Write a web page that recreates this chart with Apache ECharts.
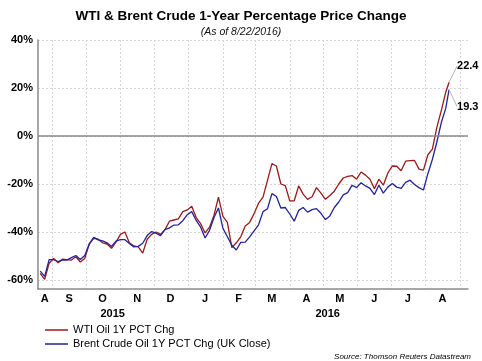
<!DOCTYPE html>
<html>
<head>
<meta charset="utf-8">
<script src="https://cdn.jsdelivr.net/npm/echarts@6/dist/echarts.min.js"></script>
<style>
  html, body { margin: 0; padding: 0; background: #ffffff; }
  #chart { width: 482px; height: 361px; }
</style>
</head>
<body>
<div id="chart"></div>
<script>
// ---- Data ----
const dates = [
  '2015-08-21','2015-08-25','2015-08-29','2015-09-02','2015-09-06','2015-09-10','2015-09-14','2015-09-18',
  '2015-09-22','2015-09-26','2015-09-30','2015-10-04','2015-10-08','2015-10-12','2015-10-16','2015-10-20',
  '2015-10-24','2015-10-28','2015-11-01','2015-11-05','2015-11-09','2015-11-13','2015-11-17','2015-11-21',
  '2015-11-25','2015-11-29','2015-12-03','2015-12-07','2015-12-11','2015-12-15','2015-12-19','2015-12-23',
  '2015-12-27','2015-12-31','2016-01-04','2016-01-08','2016-01-12','2016-01-16','2016-01-20','2016-01-24',
  '2016-01-28','2016-02-01','2016-02-05','2016-02-09','2016-02-13','2016-02-17','2016-02-21','2016-02-25',
  '2016-02-29','2016-03-04','2016-03-08','2016-03-12','2016-03-16','2016-03-20','2016-03-24','2016-03-28',
  '2016-04-01','2016-04-05','2016-04-09','2016-04-13','2016-04-17','2016-04-21','2016-04-25','2016-04-29',
  '2016-05-03','2016-05-07','2016-05-11','2016-05-15','2016-05-19','2016-05-23','2016-05-27','2016-05-31',
  '2016-06-04','2016-06-08','2016-06-12','2016-06-16','2016-06-20','2016-06-24','2016-06-28','2016-07-02',
  '2016-07-06','2016-07-10','2016-07-14','2016-07-18','2016-07-22','2016-07-26','2016-07-30','2016-08-03',
  '2016-08-07','2016-08-11','2016-08-15','2016-08-19','2016-08-22'
];
const wtiValues = [
  -57.2,-59.7,-53.0,-51.0,-52.8,-51.3,-51.5,-51.7,
  -50.3,-52.5,-51.0,-45.0,-42.6,-43.0,-44.5,-45.0,
  -46.8,-44.2,-41.0,-40.0,-44.5,-45.8,-46.2,-48.8,
  -43.0,-41.0,-40.0,-41.0,-39.0,-35.5,-35.0,-34.5,
  -31.5,-30.8,-29.3,-34.0,-36.5,-40.4,-38.0,-33.0,
  -25.5,-33.5,-36.0,-46.5,-44.5,-42.0,-37.5,-36.0,
  -32.3,-28.0,-25.5,-18.5,-11.5,-12.5,-20.0,-20.7,
  -27.0,-27.0,-20.8,-24.2,-26.4,-25.3,-21.5,-23.8,
  -26.4,-24.8,-23.0,-20.0,-17.5,-16.8,-16.5,-18.0,
  -15.0,-16.3,-18.0,-22.0,-18.0,-20.5,-15.5,-12.5,
  -12.6,-14.5,-10.5,-10.3,-10.2,-13.8,-14.2,-7.8,
  -5.5,3.5,10.6,18.2,22.4
];
const brentValues = [
  -56.3,-58.5,-51.5,-51.5,-52.3,-51.7,-51.7,-50.7,
  -49.8,-51.5,-49.8,-45.0,-42.2,-43.3,-43.7,-44.5,
  -46.0,-43.8,-43.2,-43.2,-44.8,-46.2,-46.0,-44.7,
  -41.5,-39.8,-40.5,-41.5,-39.0,-38.3,-37.1,-37.0,
  -35.3,-32.8,-31.5,-35.2,-38.0,-42.5,-39.3,-34.0,
  -30.0,-38.5,-42.0,-45.5,-47.5,-44.3,-44.2,-42.0,
  -39.5,-37.0,-31.5,-30.3,-24.0,-25.2,-30.0,-29.8,
  -32.5,-35.5,-31.0,-29.8,-31.7,-30.7,-30.3,-32.2,
  -34.8,-33.3,-29.8,-27.5,-24.5,-23.6,-20.5,-21.5,
  -19.5,-20.8,-21.8,-24.4,-20.5,-23.8,-21.3,-19.8,
  -21.3,-21.8,-19.3,-18.4,-20.2,-21.5,-22.5,-15.7,
  -9.8,-2.6,5.5,11.5,19.3
];
const seriesNames = ['WTI Oil 1Y PCT Chg', 'Brent Crude Oil 1Y PCT Chg (UK Close)'];
const monthStarts = [
  '2015-09-01','2015-10-01','2015-11-01','2015-12-01','2016-01-01','2016-02-01','2016-03-01',
  '2016-04-01','2016-05-01','2016-06-01','2016-07-01','2016-08-01','2016-09-01'
];
const monthLabelDates = [
  '2015-08-25','2015-09-16','2015-10-16','2015-11-16','2015-12-16','2016-01-16','2016-02-15',
  '2016-03-16','2016-04-16','2016-05-16','2016-06-16','2016-07-16','2016-08-16'
];
const yearLabelDates = ['2015-10-25', '2016-05-05'];
const yTicks = [-60, -40, -20, 0, 20, 40];
const axisStart = '2015-08-19';
const axisEnd = '2016-09-08';

// ---- Helpers ----
function ts(s) { return new Date(s + 'T00:00:00').getTime(); }
const MONTH_LETTERS = 'JFMAMJJASOND';
const FONT = '"Liberation Sans", Arial, sans-serif';

function buildData(values) {
  return values.map(function (v, i) {
    const item = { value: [ts(dates[i]), v] };
    if (i === values.length - 1) {
      item.label = {
        show: true,
        position: 'right',
        formatter: String(v),
        fontFamily: FONT,
        fontWeight: 'bold',
        fontSize: 11,
        color: '#000'
      };
    }
    return item;
  });
}

const chart = echarts.init(document.getElementById('chart'), null, { renderer: 'canvas' });

const option = {
  animation: false,
  backgroundColor: '#ffffff',
  title: [
    {
      text: 'WTI & Brent Crude 1-Year Percentage Price Change',
      subtext: '(As of 8/22/2016)',
      left: 'center',
      top: 4,
      itemGap: 4,
      textStyle: { fontFamily: FONT, fontWeight: 'bold', fontSize: 13.5, color: '#000' },
      subtextStyle: { fontFamily: FONT, fontStyle: 'italic', fontSize: 10.5, color: '#111' }
    },
    {
      text: 'Source: Thomson Reuters Datastream',
      right: 6,
      top: 348,
      textStyle: { fontFamily: FONT, fontStyle: 'italic', fontWeight: 'normal', fontSize: 8, color: '#000' }
    }
  ],
  legend: {
    orient: 'vertical',
    left: 40,
    top: 319,
    itemWidth: 23,
    itemHeight: 1.5,
    itemGap: 2,
    icon: 'rect',
    textStyle: { fontFamily: FONT, fontSize: 11, color: '#000', lineHeight: 12 },
    data: seriesNames
  },
  grid: { left: 38, right: 14, top: 40, bottom: 72, containLabel: false },
  xAxis: [
    {
      type: 'value',
      min: ts(axisStart),
      max: ts(axisEnd),
      axisLine: { onZero: false, lineStyle: { color: '#8a8a8a', width: 1.5 } },
      axisTick: { show: false, customValues: monthStarts.map(ts) },
      splitLine: { show: true, lineStyle: { color: '#d6d6d6', type: [2, 2], width: 1 } },
      axisLabel: {
        customValues: monthLabelDates.map(ts),
        formatter: function (v) { return MONTH_LETTERS[new Date(v).getMonth()]; },
        fontFamily: FONT, fontWeight: 'bold', fontSize: 11, color: '#000', margin: 4
      }
    },
    {
      type: 'value',
      min: ts(axisStart),
      max: ts(axisEnd),
      position: 'bottom',
      offset: 15,
      axisLine: { show: false },
      axisTick: { show: false },
      splitLine: { show: false },
      axisLabel: {
        customValues: yearLabelDates.map(ts),
        formatter: function (v) { return String(new Date(v).getFullYear()); },
        fontFamily: FONT, fontWeight: 'bold', fontSize: 11, color: '#000', margin: 4
      }
    }
  ],
  yAxis: {
    type: 'value',
    min: -63.75,
    max: 40,
    axisLine: { show: true, lineStyle: { color: '#8a8a8a', width: 1.5 } },
    axisTick: { show: false, customValues: yTicks },
    splitLine: { show: true, lineStyle: { color: '#d6d6d6', type: [2, 2], width: 1 } },
    axisLabel: {
      customValues: yTicks,
      formatter: '{value}%',
      fontFamily: FONT, fontWeight: 'bold', fontSize: 11, color: '#000', margin: 5
    }
  },
  series: [
    {
      name: seriesNames[0],
      type: 'line',
      xAxisIndex: 0,
      data: buildData(wtiValues),
      showSymbol: true,
      showAllSymbol: true,
      symbol: 'circle',
      symbolSize: 0,
      lineStyle: { color: '#9c1a1a', width: 1.3 },
      itemStyle: { color: '#9c1a1a' },
      labelLayout: { dx: 3, dy: -16 },
      labelLine: { show: true, lineStyle: { color: '#b5b5b5', width: 1 } },
      emphasis: { disabled: true },
      z: 3,
      markLine: {
        silent: true,
        symbol: 'none',
        label: { show: false },
        lineStyle: { color: '#8a8a8a', width: 1.5, type: 'solid' },
        data: [{ yAxis: 0 }]
      }
    },
    {
      name: seriesNames[1],
      type: 'line',
      xAxisIndex: 0,
      data: buildData(brentValues),
      showSymbol: true,
      showAllSymbol: true,
      symbol: 'circle',
      symbolSize: 0,
      lineStyle: { color: '#23239a', width: 1.3 },
      itemStyle: { color: '#23239a' },
      labelLayout: { dx: 3, dy: 17 },
      labelLine: { show: true, lineStyle: { color: '#b5b5b5', width: 1 } },
      emphasis: { disabled: true },
      z: 4
    }
  ]
};

chart.setOption(option);
</script>
</body>
</html>
